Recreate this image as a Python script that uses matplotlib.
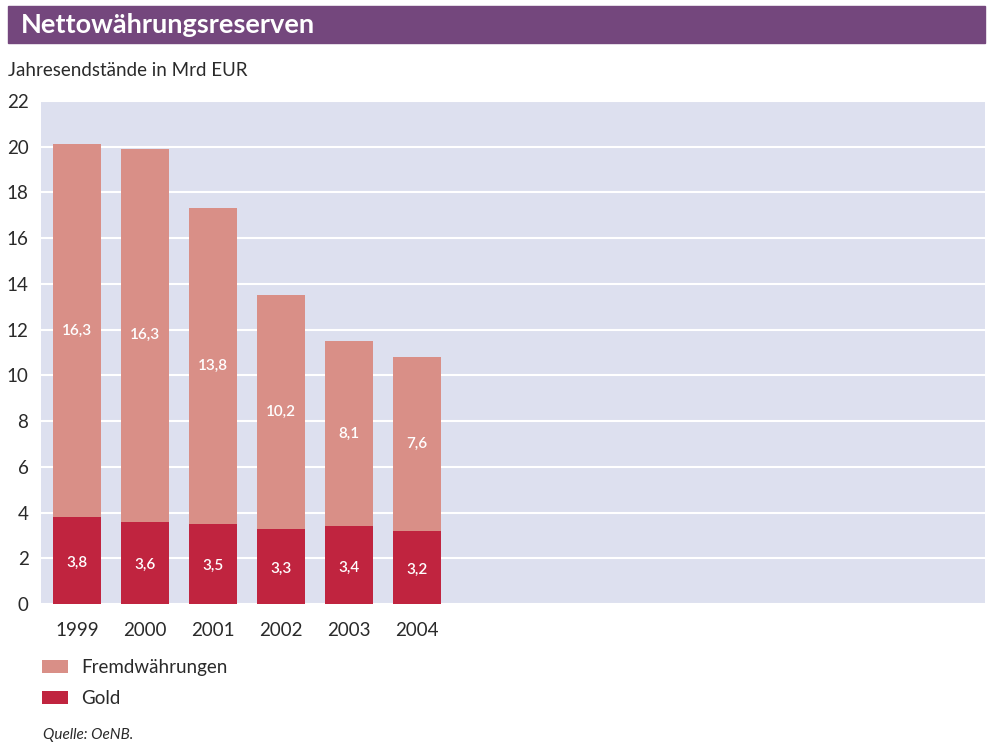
import matplotlib.pyplot as plt
import numpy as np
from matplotlib.patches import Rectangle

plt.rcParams['font.family'] = ['Lato', 'DejaVu Sans']

# data
years = ['1999', '2000', '2001', '2002', '2003', '2004']
gold = [3.8, 3.6, 3.5, 3.3, 3.4, 3.2]
fremd = [16.3, 16.3, 13.8, 10.2, 8.1, 7.6]
gold_lbl = ['3,8', '3,6', '3,5', '3,3', '3,4', '3,2']
fremd_lbl = ['16,3', '16,3', '13,8', '10,2', '8,1', '7,6']
yticks = [0, 2, 4, 6, 8, 10, 12, 14, 16, 18, 20, 22]

c_gold = '#C0243F'
c_fremd = '#D98F87'
c_bg = '#DDE0EF'
c_title = '#74477D'
c_txt = '#2a2a2a'

fig = plt.figure(figsize=(9.98, 7.46), dpi=100)

# title bar
fig.patches.append(Rectangle((8/998, 1-43/746), 977/998, 37/746,
                             transform=fig.transFigure, color=c_title, zorder=0))
fig.text(21/998, 1-25/746, 'Nettowährungsreserven', color='white',
         fontsize=19.5, fontweight='bold', va='center', ha='left')
fig.text(8/998, 1-70/746, 'Jahresendstände in Mrd EUR', fontsize=13.5,
         color=c_txt, va='center', ha='left')

ax = fig.add_axes([41/998, 1-604/746, 944/998, 503/746])
ax.set_facecolor(c_bg)
x = np.arange(len(years))
b1 = ax.bar(x, gold, width=0.7, color=c_gold, zorder=3, label='Gold')
b2 = ax.bar(x, fremd, width=0.7, bottom=gold, color=c_fremd, zorder=3,
            label='Fremdwährungen')

for i in range(len(years)):
    ax.text(x[i], gold[i]/2 - 0.1, gold_lbl[i], color='white', ha='center',
            va='center', fontsize=11, fontweight='semibold', zorder=4)
    ax.text(x[i], gold[i] + fremd[i]/2, fremd_lbl[i], color='white',
            ha='center', va='center', fontsize=11, fontweight='semibold', zorder=4)

ax.set_xlim(-0.53, 13.35)
ax.set_ylim(0, 22)
ax.set_yticks(yticks)
ax.set_yticklabels([str(v) for v in yticks])
ax.set_xticks(x)
ax.set_xticklabels(years)
ax.yaxis.grid(True, color='white', lw=1.5, zorder=1)
ax.set_axisbelow(True)
for s in ax.spines.values():
    s.set_visible(False)
ax.tick_params(axis='both', length=0, labelsize=13.5, colors=c_txt)
ax.tick_params(axis='y', pad=9)
ax.tick_params(axis='x', pad=13)

leg = fig.legend([b2, b1], ['Fremdwährungen', 'Gold'], loc='upper left',
                 bbox_to_anchor=(25/998, 1-642/746), frameon=False,
                 fontsize=13.5, handlelength=1.4, handleheight=0.7,
                 labelspacing=0.75, handletextpad=0.7)
for t in leg.get_texts():
    t.set_color(c_txt)

fig.text(43/998, 1-735/746, 'Quelle: OeNB.', fontsize=11, style='italic',
         color=c_txt, va='center', ha='left')

fig.savefig('out.png', dpi=100)
